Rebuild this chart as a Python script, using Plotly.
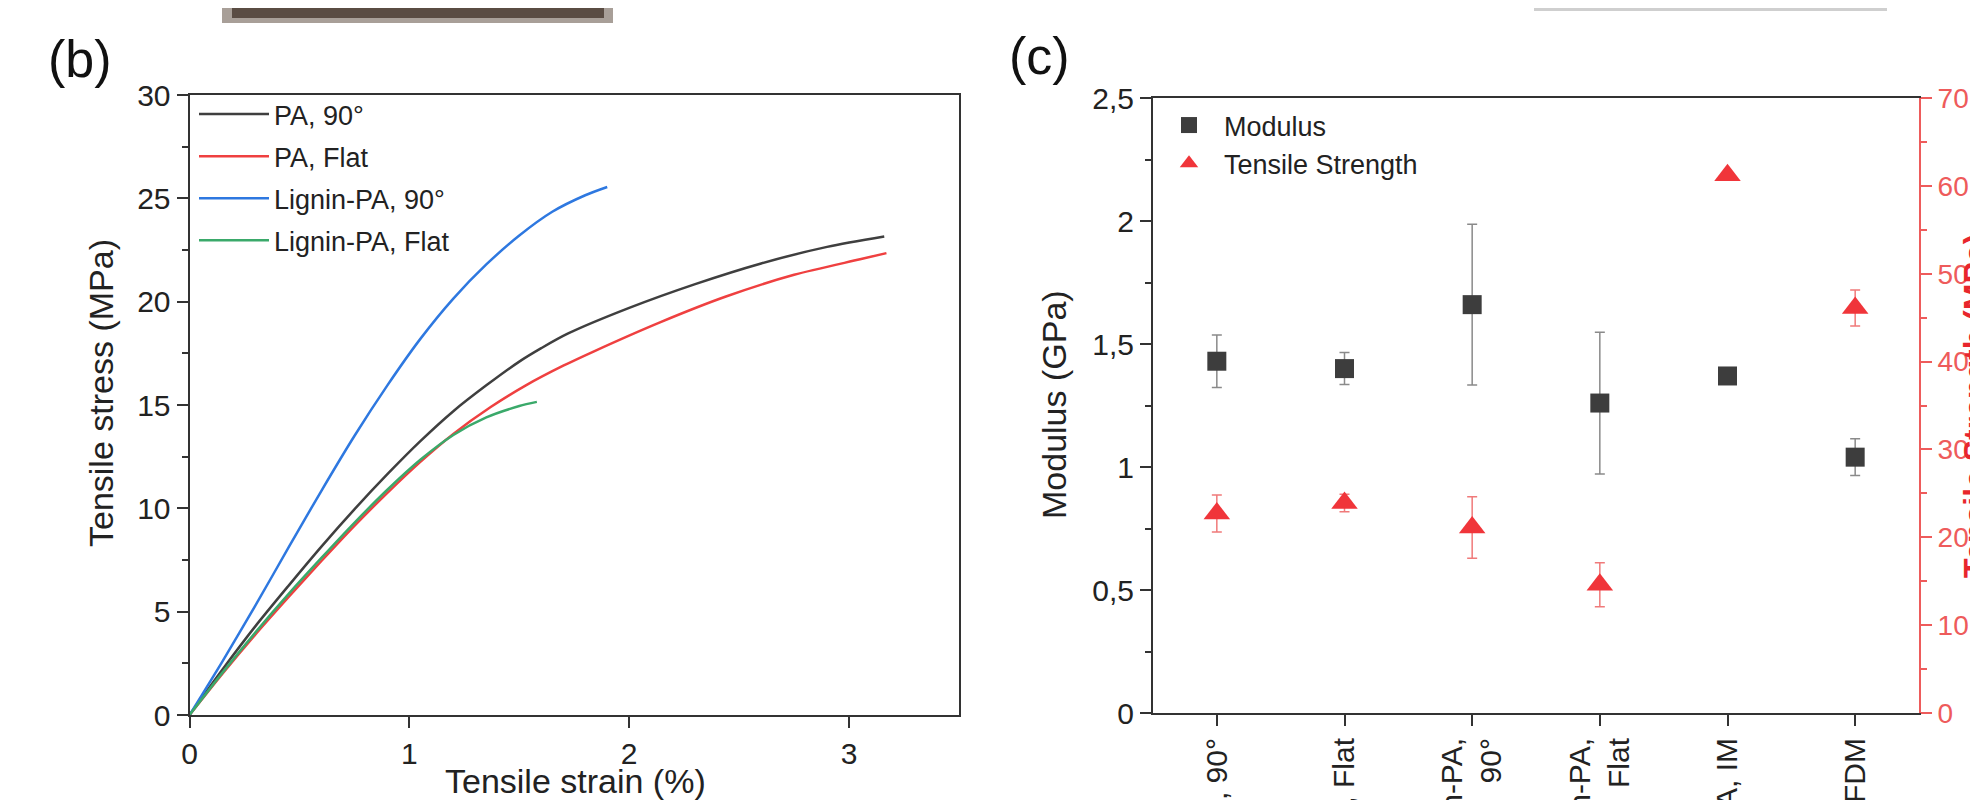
import plotly.graph_objects as go

W, H = 1978, 800

# ---------------- Panel (b): tensile curves ----------------
strain_pa90 = [0, 0.15, 0.3, 0.45, 0.6, 0.75, 0.9, 1.05, 1.2, 1.35, 1.5, 1.6, 1.72, 2.0, 2.3, 2.6, 2.9, 3.16]
stress_pa90 = [0, 2.2, 4.3, 6.25, 8.15, 9.95, 11.65, 13.25, 14.7, 15.95, 17.1, 17.75, 18.45, 19.7, 20.85, 21.85, 22.65, 23.15]

strain_paflat = [0, 0.15, 0.3, 0.45, 0.6, 0.75, 0.9, 1.05, 1.2, 1.37, 1.53, 1.7, 1.84, 2.14, 2.44, 2.75, 3.05, 3.17]
stress_paflat = [0, 2.0, 3.9, 5.7, 7.45, 9.15, 10.75, 12.25, 13.6, 14.9, 15.95, 16.9, 17.6, 19.0, 20.25, 21.3, 22.05, 22.35]

strain_lig90 = [0, 0.15, 0.3, 0.45, 0.6, 0.75, 0.9, 1.05, 1.2, 1.35, 1.5, 1.65, 1.8, 1.9]
stress_lig90 = [0, 2.6, 5.3, 8.1, 10.85, 13.5, 15.95, 18.2, 20.15, 21.8, 23.2, 24.35, 25.15, 25.55]

strain_ligflat = [0, 0.15, 0.3, 0.45, 0.6, 0.75, 0.9, 1.05, 1.2, 1.35, 1.5, 1.58]
stress_ligflat = [0, 2.05, 4.0, 5.85, 7.6, 9.3, 10.9, 12.35, 13.55, 14.4, 14.95, 15.15]

curve_names = ["PA, 90°", "PA, Flat", "Lignin-PA, 90°", "Lignin-PA, Flat"]
curve_colors = ["#3f3f3f", "#ef4040", "#2e78e0", "#3aa96a"]

# ---------------- Panel (c): modulus / strength ----------------
categories = ["PA, 90°", "PA, Flat", "Lignin-PA,<br>90°", "Lignin-PA,<br>Flat", "PA, IM", "PA, FDM"]
modulus = [1.43, 1.40, 1.66, 1.26, 1.37, 1.04]
modulus_err = [0.107, 0.065, 0.327, 0.288, 0.0, 0.075]
strength = [22.7, 23.9, 21.1, 14.6, 61.2, 46.1]
strength_err = [2.1, 1.0, 3.5, 2.5, 0.0, 2.05]

y_ticks_mod = [0, 0.5, 1, 1.5, 2, 2.5]
y_ticktext_mod = ["0", "0,5", "1", "1,5", "2", "2,5"]

FONT = "Liberation Sans, Arial, sans-serif"
AX = "#333333"
RED_AX = "#ee5b5b"


def fx(x):
    return x / W


def fy(y):
    return 1 - y / H


fig = go.Figure()

for xs, ys, name, col in zip(
    [strain_pa90, strain_paflat, strain_lig90, strain_ligflat],
    [stress_pa90, stress_paflat, stress_lig90, stress_ligflat],
    curve_names, curve_colors):
    fig.add_trace(go.Scatter(
        x=xs, y=ys, mode="lines", name=name, legendgroup=name,
        line=dict(color=col, width=2.5, shape="spline", smoothing=0.8),
        xaxis="x", yaxis="y", legend="legend"))

fig.add_trace(go.Scatter(
    x=categories, y=modulus, mode="markers", name="Modulus",
    marker=dict(symbol="square", size=19, color="#3d3d3d"),
    error_y=dict(type="data", array=modulus_err, visible=True,
                 color="#8a8a8a", thickness=1.5, width=5),
    xaxis="x2", yaxis="y3", legend="legend2"))

fig.add_trace(go.Scatter(
    x=categories, y=strength, mode="markers", name="Tensile Strength",
    marker=dict(symbol="triangle-up", size=23, color="#f0353a"),
    error_y=dict(type="data", array=strength_err, visible=True,
                 color="#f07a7a", thickness=1.5, width=5),
    xaxis="x2", yaxis="y4", legend="legend2"))

tickfont = dict(family=FONT, size=30, color="#222222")
common = dict(showgrid=False, zeroline=False, showline=True, linecolor=AX,
              linewidth=2, ticks="outside", tickwidth=2, tickcolor=AX,
              ticklen=11, tickfont=tickfont, automargin=False)

fig.update_layout(
    width=W, height=H,
    margin=dict(l=0, r=0, t=0, b=0),
    paper_bgcolor="white", plot_bgcolor="white",
    font=dict(family=FONT, color="#222222"),
    xaxis=dict(domain=[fx(181.5), fx(951)], range=[0, 3.5],
               tickvals=[0, 1, 2, 3], mirror=True, anchor="y", **common),
    yaxis=dict(domain=[fy(707), fy(87)], range=[0, 30], dtick=5,
               mirror=True, anchor="x",
               minor=dict(ticks="outside", dtick=2.5, ticklen=6,
                          tickwidth=1.5, tickcolor=AX),
               **common),
    xaxis2=dict(domain=[fx(1145), fx(1911)], type="category",
                range=[-0.5, 5.5], tickangle=-90, mirror=True,
                anchor="y3", **common),
    yaxis3=dict(domain=[fy(705), fy(90)], range=[0, 2.5],
                tickvals=y_ticks_mod, ticktext=y_ticktext_mod,
                anchor="x2",
                minor=dict(ticks="outside", dtick=0.25, ticklen=6,
                           tickwidth=1.5, tickcolor=AX),
                **common),
    yaxis4=dict(overlaying="y3", side="right", anchor="x2", range=[0, 70],
                dtick=10, showgrid=False, zeroline=False, showline=True,
                linecolor=RED_AX, linewidth=2, ticks="outside",
                tickcolor=RED_AX, tickwidth=2, ticklen=11,
                tickfont=dict(family=FONT, size=28, color=RED_AX),
                minor=dict(ticks="outside", dtick=5, ticklen=6,
                           tickwidth=1.5, tickcolor=RED_AX),
                automargin=False),
    legend=dict(x=fx(186), y=fy(82), xanchor="left", yanchor="top",
                bgcolor="rgba(0,0,0,0)", borderwidth=0,
                font=dict(family=FONT, size=27, color="#222222"),
                itemwidth=70, tracegroupgap=4),
    legend2=dict(x=fx(1146), y=fy(93), xanchor="left", yanchor="top",
                 bgcolor="rgba(0,0,0,0)", borderwidth=0,
                 font=dict(family=FONT, size=27, color="#222222"),
                 itemwidth=60, tracegroupgap=5),
    showlegend=True,
)

annos = [
    dict(text="(b)", x=fx(72), y=fy(51), font=dict(size=52, family=FONT, color="#111")),
    dict(text="(c)", x=fx(1031), y=fy(48), font=dict(size=52, family=FONT, color="#111")),
    dict(text="Tensile strain (%)", x=fx(567), y=fy(773),
         font=dict(size=34, family=FONT, color="#222")),
    dict(text="Tensile stress (MPa)", x=fx(93), y=fy(385), textangle=-90,
         font=dict(size=34, family=FONT, color="#222")),
    dict(text="Modulus (GPa)", x=fx(1046), y=fy(397), textangle=-90,
         font=dict(size=34, family=FONT, color="#222")),
    dict(text="<b>Tensile Strength (MPa)</b>", x=fx(1967), y=fy(398), textangle=-90,
         font=dict(size=32, family=FONT, color="#e8262c")),
]
fig.update_layout(annotations=[dict(xref="paper", yref="paper", showarrow=False,
                                    xanchor="center", yanchor="middle", **a) for a in annos])

# remnants of the photograph above the panels
fig.update_layout(shapes=[
    dict(type="rect", xref="paper", yref="paper", x0=fx(214), x1=fx(605),
         y0=fy(15), y1=fy(0), fillcolor="#a89f98", line=dict(width=0), layer="below"),
    dict(type="rect", xref="paper", yref="paper", x0=fx(224), x1=fx(596),
         y0=fy(10), y1=fy(0), fillcolor="#5a4c43", line=dict(width=0), layer="below"),
    dict(type="rect", xref="paper", yref="paper", x0=fx(1526), x1=fx(1879),
         y0=fy(3), y1=fy(0), fillcolor="#cfcfcf", line=dict(width=0), layer="below"),
])

fig.write_html("out.html")
